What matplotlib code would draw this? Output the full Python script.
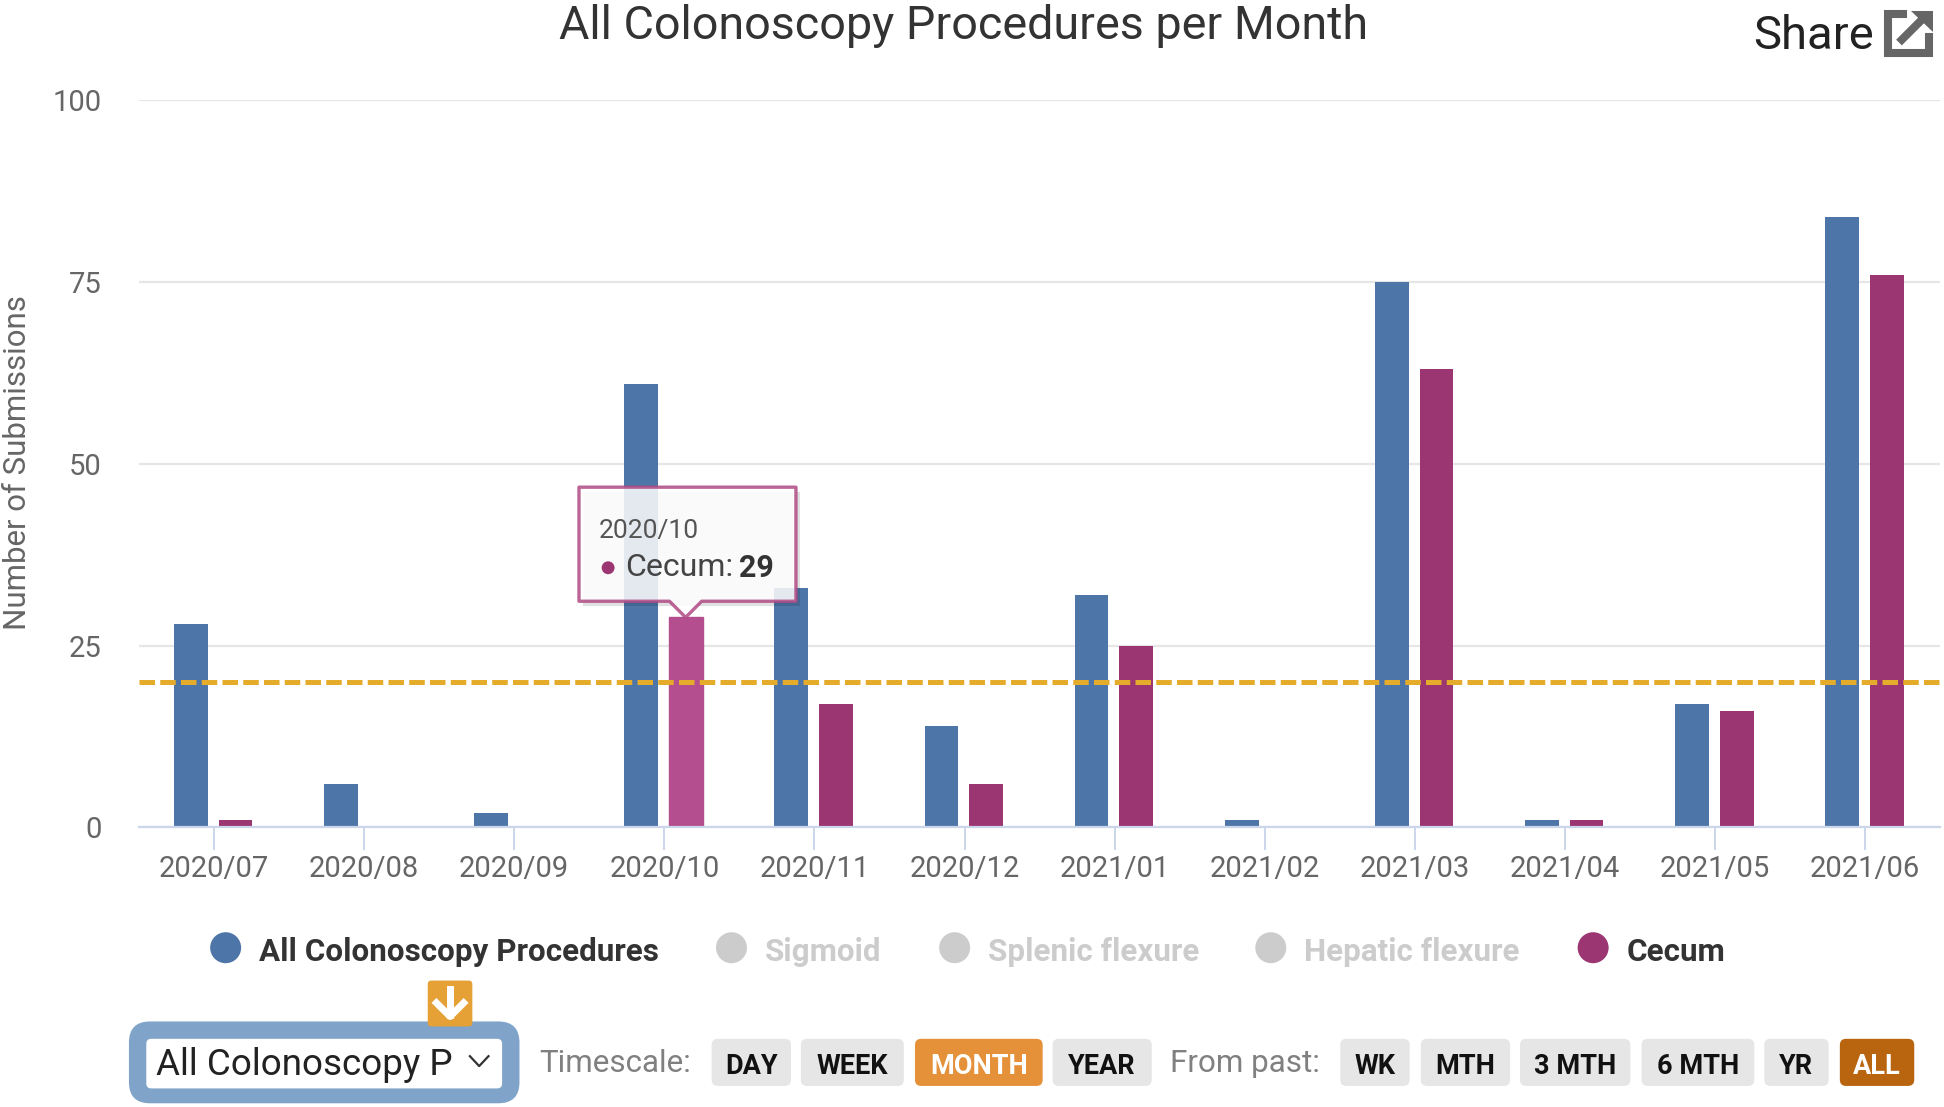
import matplotlib as mpl
import matplotlib.pyplot as plt
from matplotlib.patches import Circle, FancyBboxPatch, Polygon
# -------------------------------------------------------------------------------------------------

mpl.use('AGG')
plt.rcParams['font.family'] = ['Roboto', 'DejaVu Sans']

months = ['2020/07', '2020/08', '2020/09', '2020/10', '2020/11', '2020/12',
	'2021/01', '2021/02', '2021/03', '2021/04', '2021/05', '2021/06']
all_procedures = [28, 6, 2, 61, 33, 14, 32, 1, 75, 1, 17, 84]
cecum = [1, 0, 0, 29, 17, 6, 25, 0, 63, 1, 16, 76]
target_line = 20
y_ticks = [0, 25, 50, 75, 100]

legend_labels = ['All Colonoscopy Procedures', 'Sigmoid', 'Splenic flexure', 'Hepatic flexure', 'Cecum']
timescale_labels = ['DAY', 'WEEK', 'MONTH', 'YEAR']
from_past_labels = ['WK', 'MTH', '3 MTH', '6 MTH', 'YR', 'ALL']

BLUE = '#4E75A8'
MAGENTA = '#9B3672'
MAGENTA_HOVER = '#B44E8E'
W, H = 1568, 893	# layout below is in the coordinates of the 1568x893 view

# -------------------------------------------------------------------------------------------------
def button(ui, x0, x1, label, face='#E6E6E6', color='#111111'):
	ui.add_patch(FancyBboxPatch((x0 + 5, 843), x1 - x0 - 10, 28,
		boxstyle='round,pad=5,rounding_size=5', facecolor=face, edgecolor='none'))
	ui.text((x0 + x1) / 2, 860.5, label, color=color, fontsize=19.5, fontweight='bold',
		ha='center', va='center')

# Create figure and the chart axes
fig = plt.figure(figsize=(19.44, 11.07), dpi=100, facecolor='white')
ax = fig.add_axes([112 / W, 1 - 667.5 / H, (1565 - 112) / W, (667.5 - 81) / H])
ax.set_xlim(-0.5, 11.5)
ax.set_ylim(0, 100)

# Plot bars
offset = 0.149
bar_w = 0.225
shift = -0.005
xs = range(len(months))
ax.bar([x - offset + shift for x in xs], all_procedures, width=bar_w, color=BLUE, zorder=2)
bars = ax.bar([x + offset + shift for x in xs], cecum, width=bar_w, color=MAGENTA, zorder=2)
bars[months.index('2020/10')].set_color(MAGENTA_HOVER)

ax.axhline(target_line, color='#E5AC2C', linewidth=3.6, linestyle=(0, (3.1, 1.05)), zorder=3)

# Axes styling
ax.set_yticks(y_ticks)
ax.set_xticks(list(xs))
ax.set_xticklabels(months)
ax.grid(axis='y', color='#E6E6E6', linewidth=1.6, zorder=0)
ax.tick_params(axis='y', length=0, pad=27, labelsize=21, labelcolor='#666666')
ax.tick_params(axis='x', length=16.5, width=1.4, color='#CCD6EB', pad=3, labelsize=21, labelcolor='#666666')
for name in ('top', 'left', 'right'):
	ax.spines[name].set_visible(False)
ax.spines['bottom'].set_color('#CCD6EB')
ax.spines['bottom'].set_linewidth(1.6)

# Everything else is page furniture, drawn on a transparent overlay
ui = fig.add_axes([0, 0, 1, 1], zorder=5)
ui.set_xlim(0, W)
ui.set_ylim(H, 0)
ui.axis('off')
ui.patch.set_alpha(0)

ui.text(777, 21, 'All Colonoscopy Procedures per Month', fontsize=33.7, color='#333333', ha='center', va='center')
ui.text(14, 373, 'Number of Submissions', fontsize=22.5, color='#666666', rotation=90, ha='center', va='center')

# Share button
ui.text(1414, 29, 'Share', fontsize=34, color='#222222', ha='left', va='center')
ui.plot([1535, 1523, 1523, 1556, 1556], [11.5, 11.5, 43, 43, 30], color='#666666', linewidth=5.8,
	solid_joinstyle='miter')
ui.plot([1534, 1551], [32, 15], color='#666666', linewidth=5.8)
ui.add_patch(Polygon([[1541, 8.5], [1559, 8.5], [1559, 26]], facecolor='#666666', edgecolor='none'))

# Tooltip
ui.add_patch(Polygon([[470, 397], [645, 397], [645, 489], [470, 489]], facecolor='#000000', alpha=0.12, edgecolor='none'))
ui.add_patch(Polygon([[467, 393], [642, 393], [642, 485], [566, 485], [553, 498], [540, 485], [467, 485]],
	closed=True, facecolor='white', alpha=0.86, edgecolor='#B04A85', linewidth=2.4, joinstyle='round'))
ui.text(483, 428, months[3], fontsize=19, color='#555555', ha='left', va='center')
ui.add_patch(Circle((490.5, 458), 5.2, facecolor=MAGENTA, edgecolor='none'))
ui.text(504, 458, 'Cecum:', fontsize=23, color='#444444', ha='left', va='center')
ui.text(596, 458, str(cecum[3]), fontsize=22, color='#333333', fontweight='bold', ha='left', va='center')

# Legend
legend_dots = [182, 590, 770, 1025, 1285]
legend_text = [209, 617, 797, 1052, 1312]
for (i, label) in enumerate(legend_labels):
	active = i in (0, 4)
	dot = {0: BLUE, 4: MAGENTA}.get(i, '#CCCCCC')
	ui.add_patch(Circle((legend_dots[i], 764.5), 12.5, facecolor=dot, edgecolor='none'))
	ui.text(legend_text[i], 768, label, fontsize=22.6, fontweight='bold', ha='left', va='center',
		color='#333333' if active else '#CCCCCC')

# Dropdown
ui.add_patch(FancyBboxPatch((104, 824), 315, 66, boxstyle='round,pad=0,rounding_size=17',
	facecolor='#7FA3C9', edgecolor='none'))
ui.add_patch(FancyBboxPatch((118, 838), 287, 40, boxstyle='round,pad=0,rounding_size=4',
	facecolor='white', edgecolor='none'))
ui.text(126, 859, 'All Colonoscopy P', fontsize=26.5, color='#222222', ha='left', va='center')
ui.plot([379, 386.5, 394], [852, 860, 852], color='#333333', linewidth=1.6)

# Orange arrow badge
ui.add_patch(FancyBboxPatch((347, 793), 32, 33, boxstyle='round,pad=2,rounding_size=3',
	facecolor='#E5A136', edgecolor='none'))
ui.plot([363, 363], [798, 819], color='white', linewidth=5)
ui.plot([352, 363, 374], [809, 820, 809], color='white', linewidth=5)

# Time buttons
ui.text(435, 858, 'Timescale:', fontsize=22.6, color='#808080', ha='left', va='center')
ui.text(944, 858, 'From past:', fontsize=22.6, color='#808080', ha='left', va='center')

timescale_x = [(574, 638), (646, 729), (738, 841), (849, 929)]
for (i, label) in enumerate(timescale_labels):
	if label == 'MONTH':
		button(ui, *timescale_x[i], label, face='#E5913A', color='white')
	else:
		button(ui, *timescale_x[i], label)

from_past_x = [(1081, 1137), (1146, 1218), (1226, 1315), (1324, 1415), (1423, 1475), (1484, 1544)]
for (i, label) in enumerate(from_past_labels):
	if label == 'ALL':
		button(ui, *from_past_x[i], label, face='#B9650F', color='white')
	else:
		button(ui, *from_past_x[i], label)

fig.savefig('out.png', dpi=100)
plt.close()
